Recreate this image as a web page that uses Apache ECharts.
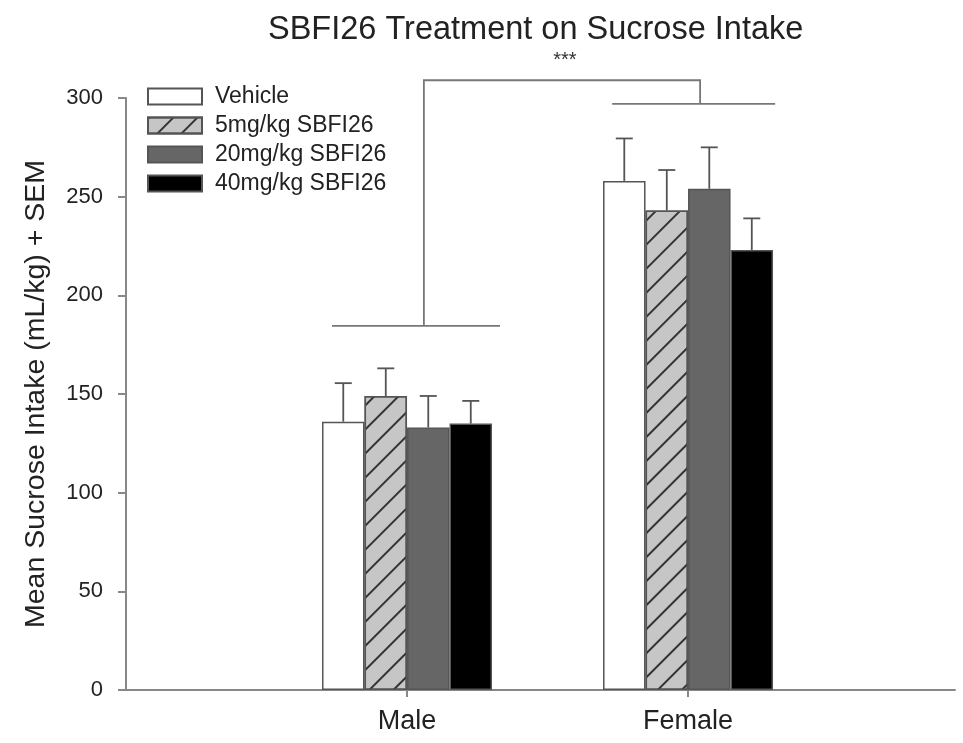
<!DOCTYPE html>
<html>
<head>
<meta charset="utf-8">
<script src="https://cdn.jsdelivr.net/npm/echarts@6/dist/echarts.min.js"></script>
<style>html,body{margin:0;padding:0;background:#fff}#c{width:963px;height:743px}</style>
</head>
<body>
<div id="c"></div>
<script>
// ---- data ----
var categories = ['Male', 'Female'];
var categoryPos = [1, 2];            // x position of each group on the x value axis
var treatments = ['Vehicle', '5mg/kg SBFI26', '20mg/kg SBFI26', '40mg/kg SBFI26'];
var vehicleMean = [136, 258];
var mg5Mean = [149, 243];
var mg20Mean = [133, 254];
var mg40Mean = [135, 223];
var vehicleSem = [19.5, 21.5];
var mg5Sem = [14, 20.5];
var mg20Sem = [16, 21];
var mg40Sem = [11.5, 16];
var yTicks = [0, 50, 100, 150, 200, 250, 300];
// significance bracket (data units: x = group axis, y = intake)
var bracketMale = [[0.733, 184.5], [1.331, 184.5]];
var bracketStem = [[1.060, 184.5], [1.060, 309], [2.043, 309], [2.043, 297]];
var bracketFemale = [[1.730, 297], [2.310, 297]];
var starLabel = [[1.562, 319, '***']];

var means = [vehicleMean, mg5Mean, mg20Mean, mg40Mean];
var sems = [vehicleSem, mg5Sem, mg20Sem, mg40Sem];

var FONT = 'Liberation Sans, Arial, sans-serif';
var BAR_W = 42.5;
var fills = ['#ffffff', '#c6c6c6', '#666666', '#000000'];

var series = [];
treatments.forEach(function (name, k) {
  var item = {
    color: fills[k],
    borderColor: '#555',
    borderWidth: 1.5
  };
  if (k === 1) {
    item.decal = {
      symbol: 'rect',
      symbolSize: 1,
      dashArrayX: [1, 0],
      dashArrayY: [1.8, 15],
      rotation: -Math.PI / 4,
      color: '#333'
    };
  }
  series.push({
    name: name,
    type: 'bar',
    barWidth: BAR_W,
    barGap: '0%',
    itemStyle: item,
    data: categoryPos.map(function (x, i) { return [x, means[k][i]]; }),
    z: 2
  });
});

// error bars (upper only)
treatments.forEach(function (name, k) {
  series.push({
    type: 'custom',
    silent: true,
    z: 3,
    data: categoryPos.map(function (x, i) { return [x, means[k][i], sems[k][i]]; }),
    renderItem: function (params, api) {
      var x = api.value(0), m = api.value(1), s = api.value(2);
      var p0 = api.coord([x, m]);
      var p1 = api.coord([x, m + s]);
      var dx = (k - 1.5) * BAR_W;
      var cx = p0[0] + dx;
      var st = { stroke: '#555', lineWidth: 1.8 };
      return {
        type: 'group',
        children: [
          { type: 'line', shape: { x1: cx, y1: p0[1], x2: cx, y2: p1[1] }, style: st },
          { type: 'line', shape: { x1: cx - 8.5, y1: p1[1], x2: cx + 8.5, y2: p1[1] }, style: st }
        ]
      };
    }
  });
});

// bracket lines
[bracketMale, bracketStem, bracketFemale].forEach(function (pts) {
  series.push({
    type: 'custom',
    silent: true,
    clip: false,
    z: 4,
    data: [0],
    renderItem: function (params, api) {
      var p = pts.map(function (d) { return api.coord(d); });
      return { type: 'polyline', shape: { points: p }, style: { stroke: '#777', lineWidth: 1.8, fill: null } };
    }
  });
});
series.push({
  type: 'custom',
  silent: true,
  clip: false,
  z: 4,
  data: starLabel,
  renderItem: function (params, api) {
    var p = api.coord([api.value(0), api.value(1)]);
    return {
      type: 'text',
      x: p[0], y: p[1],
      style: { text: starLabel[params.dataIndex][2], fontSize: 20, fontFamily: FONT, fill: '#333', align: 'center', verticalAlign: 'middle' }
    };
  }
});

var chart = echarts.init(document.getElementById('c'), null, { renderer: 'canvas' });
chart.setOption({
  backgroundColor: '#fff',
  animation: false,
  title: {
    text: 'SBFI26 Treatment on Sucrose Intake',
    left: 263,
    top: 9,
    textStyle: { fontFamily: FONT, fontSize: 32.5, fontWeight: 'normal', color: '#222' }
  },
  legend: {
    data: treatments,
    orient: 'vertical',
    left: 142,
    top: 80,
    icon: 'rect',
    itemWidth: 54,
    itemHeight: 16,
    itemGap: 6,
    textStyle: { fontFamily: FONT, fontSize: 23, color: '#222', padding: [0, 0, 0, 8] }
  },
  grid: { left: 126, right: 8, top: 98, bottom: 53, containLabel: false },
  xAxis: {
    type: 'value',
    min: 0,
    max: 2.95,
    splitLine: { show: false },
    axisLine: { show: true, lineStyle: { color: '#888', width: 2 } },
    axisTick: { show: true, customValues: categoryPos, length: 7, lineStyle: { color: '#888', width: 2 } },
    axisLabel: {
      customValues: categoryPos,
      margin: 18,
      fontFamily: FONT, fontSize: 27, color: '#222',
      formatter: function (v) { var i = categoryPos.indexOf(v); return i >= 0 ? categories[i] : ''; }
    }
  },
  yAxis: {
    type: 'value',
    min: yTicks[0],
    max: yTicks[yTicks.length - 1],
    interval: yTicks[1] - yTicks[0],
    name: 'Mean Sucrose Intake (mL/kg) + SEM',
    nameLocation: 'middle',
    nameGap: 75,
    nameTextStyle: { fontFamily: FONT, fontSize: 28.5, color: '#222' },
    splitLine: { show: false },
    axisLine: { show: true, lineStyle: { color: '#888', width: 2 } },
    axisTick: { show: true, length: 8, lineStyle: { color: '#888', width: 2 } },
    axisLabel: { margin: 23, fontFamily: FONT, fontSize: 22, color: '#222' }
  },
  series: series
});
</script>
</body>
</html>
